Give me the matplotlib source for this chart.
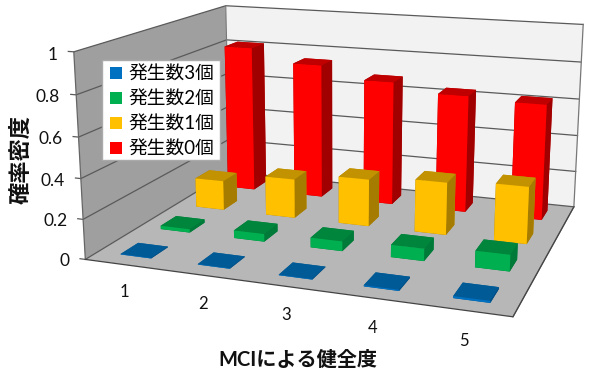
import numpy as np
import matplotlib
matplotlib.use("Agg")
import matplotlib.pyplot as plt
from matplotlib.patches import Patch, Rectangle
from mpl_toolkits.mplot3d import proj3d
from mpl_toolkits.mplot3d.art3d import Poly3DCollection

# 発生数ごとの確率密度 (手前の系列から順に)
categories = ["1", "2", "3", "4", "5"]
series_names = ["発生数3個", "発生数2個", "発生数1個", "発生数0個"]
count3 = [0.003, 0.003, 0.003, 0.006, 0.010]
count2 = [0.018, 0.040, 0.050, 0.062, 0.082]
count1 = [0.160, 0.210, 0.250, 0.275, 0.295]
count0 = [0.815, 0.745, 0.680, 0.635, 0.620]
series_values = [count3, count2, count1, count0]
z_ticks = [0, 0.2, 0.4, 0.6, 0.8, 1]
z_tick_labels = ["0", "0.2", "0.4", "0.6", "0.8", "1"]

# 前面, 上面, 右側面の色
front_colors = ["#0070C0", "#00B050", "#FFC000", "#FF0000"]
top_colors = ["#005A96", "#00853C", "#C29200", "#C00000"]
side_colors = ["#004F86", "#007A38", "#A67C00", "#A00000"]

W, H = 595, 378
plt.rcParams["font.family"] = ["Lato", "Noto Sans CJK JP"]

fig = plt.figure(figsize=(W / 100, H / 100), dpi=100)
side = 544.6
ax = fig.add_axes([66.61 / W, -37.92 / H, side / W, side / H], projection="3d")
ax.set_xlim(0, 5)
ax.set_ylim(0, 4)
ax.set_zlim(0, 1)
ax.view_init(14.1761, -70.5309, -0.0985)
ax.set_proj_type("persp", focal_length=0.4016)
ax.set_box_aspect((2.0574, 1.6187, 1))
ax.set_xticks([])
ax.set_yticks([])
ax.set_zticks([])
ax.set_axis_off()
ax.computed_zorder = False

# 壁と床
left_wall = [(0, 0, 0), (0, 4, 0), (0, 4, 1), (0, 0, 1)]
back_wall = [(0, 4, 0), (5, 4, 0), (5, 4, 1), (0, 4, 1)]
floor = [(0, 0, 0), (5, 0, 0), (5, 4, 0), (0, 4, 0)]
ax.add_collection3d(Poly3DCollection([left_wall], facecolors="#9F9F9F", edgecolors="none", zorder=1))
ax.add_collection3d(Poly3DCollection([back_wall], facecolors="#F2F2F2", edgecolors="none", zorder=1))
ax.add_collection3d(Poly3DCollection([floor], facecolors="#B7B7B7", edgecolors="none", zorder=1))

# 目盛線
for z in z_ticks:
    ax.plot([-0.07, 0, 0, 5], [0, 0, 4, 4], [z, z, z, z], color="#5A5A5A", lw=0.9, zorder=2)
ax.plot([0, 0], [0, 0], [0, 1], color="#666666", lw=0.9, zorder=2)
ax.plot([0, 0], [4, 4], [0, 1], color="#777777", lw=0.8, zorder=2)
ax.plot([5, 5, 5], [4, 4, 0], [1, 0, 0], color="#777777", lw=0.9, zorder=2)
ax.plot([0, 5, 5], [0, 0, 4], [0, 0, 0], color="#444444", lw=0.9, zorder=2)

# 棒 (奥の系列から描く)
bar_w = 0.4
bar_d = 0.42
xpos = np.arange(len(categories)) + 0.5 - bar_w / 2
for i in [3, 2, 1, 0]:
    ypos = np.full(len(xpos), i + 0.5 - bar_d / 2)
    # bar3d の面の順: 底, 上, 前, 後, 左, 右
    faces = [side_colors[i], top_colors[i], front_colors[i], top_colors[i], side_colors[i], side_colors[i]]
    ax.bar3d(xpos, ypos, 0, bar_w, bar_d, series_values[i],
             color=faces * len(xpos), shade=False, edgecolor="none", zorder=3 + (3 - i))


def label_at(x, y, z, s, **kw):
    # 3次元座標を投影して2次元のテキストとして置く
    xp, yp, _ = proj3d.proj_transform(x, y, z, ax.get_proj())
    ax.text2D(xp, yp, s, transform=ax.transData, color="#111111", zorder=9, **kw)


for z, label in zip(z_ticks, z_tick_labels):
    label_at(-0.21, 0, z - 0.018, label, ha="right", va="center", fontsize=12.5)
for i, label in enumerate(categories):
    label_at(i + 0.5, 0, -0.14, label, ha="center", va="center", fontsize=12)

fig.text(21 / W, 1 - 160 / H, "確率密度", rotation=90, ha="center", va="center",
         fontsize=16, fontweight="bold", color="#111111")
fig.text(298 / W, 1 - 360 / H, "MCIによる健全度", ha="center", va="center",
         fontsize=14.5, fontweight="bold", color="#111111")

# 凡例の枠
fig.add_artist(Rectangle((102 / W, 1 - 160 / H), 118 / W, 100 / H, transform=fig.transFigure,
                         facecolor="white", edgecolor="#AAAAAA", linewidth=1, zorder=3))
handles = [Patch(facecolor=c, edgecolor="none") for c in front_colors]
fig.legend(handles, series_names, loc="upper left", bbox_to_anchor=(102 / W, 1 - 58 / H),
           borderaxespad=0, fontsize=13.5, frameon=False, handlelength=0.62, handleheight=0.62,
           handletextpad=0.35, labelspacing=0.42, borderpad=0.42)

fig.savefig("out.png", dpi=100)
